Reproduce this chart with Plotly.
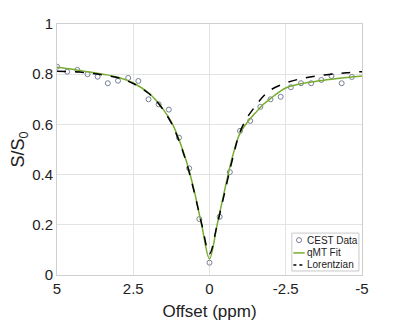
import plotly.graph_objects as go

# CEST data points (offset in ppm, normalized signal)
data_x = [5, 4.667, 4.333, 4, 3.667, 3.333, 3, 2.667, 2.333, 2, 1.667, 1.333, 1, 0.667, 0.333, 0,
          -0.333, -0.667, -1, -1.333, -1.667, -2, -2.333, -2.667, -3, -3.333, -3.667, -4, -4.333, -4.667]
data_y = [0.83, 0.81, 0.817, 0.80, 0.79, 0.764, 0.774, 0.785, 0.773, 0.70, 0.68, 0.659, 0.547, 0.425, 0.223, 0.049,
          0.232, 0.41, 0.574, 0.614, 0.67, 0.70, 0.71, 0.748, 0.764, 0.764, 0.777, 0.793, 0.764, 0.789]

# qMT fit curve
fit_x = [5, 4.5, 4, 3.5, 3, 2.5, 2, 1.75, 1.5, 1.25, 1, 0.75, 0.5, 0.25, 0,
         -0.25, -0.5, -0.75, -1, -1.25, -1.5, -1.75, -2, -2.5, -3, -3.5, -4, -4.5, -5]
fit_y = [0.828, 0.82, 0.81, 0.80, 0.788, 0.765, 0.726, 0.695, 0.657, 0.61, 0.54, 0.45, 0.335, 0.195, 0.065,
         0.2, 0.34, 0.47, 0.565, 0.61, 0.645, 0.678, 0.703, 0.745, 0.762, 0.772, 0.78, 0.787, 0.793]

# Lorentzian curve
lor_x = [5, 4.5, 4, 3.5, 3, 2.5, 2, 1.75, 1.5, 1.25, 1, 0.75, 0.5, 0.25, 0,
         -0.25, -0.5, -0.75, -1, -1.25, -1.5, -1.75, -2, -2.5, -3, -3.5, -4, -4.5, -5]
lor_y = [0.812, 0.81, 0.805, 0.797, 0.786, 0.763, 0.724, 0.695, 0.655, 0.605, 0.535, 0.445, 0.33, 0.2, 0.085,
         0.2, 0.33, 0.46, 0.57, 0.63, 0.672, 0.71, 0.737, 0.765, 0.782, 0.793, 0.80, 0.806, 0.81]

x_ticks = [5, 2.5, 0, -2.5, -5]
x_tick_labels = ["5", "2.5", "0", "-2.5", "-5"]
y_ticks = [0, 0.2, 0.4, 0.6, 0.8, 1]
y_tick_labels = ["0", "0.2", "0.4", "0.6", "0.8", "1"]
legend_labels = ["CEST Data", "qMT Fit", "Lorentzian"]

marker_color = "rgb(120,128,150)"
fit_color = "rgb(119,172,48)"

fig = go.Figure()
fig.add_trace(go.Scatter(x=data_x, y=data_y, mode="markers", name=legend_labels[0],
                         marker=dict(symbol="circle-open", size=5, color=marker_color,
                                     line=dict(width=1))))
fig.add_trace(go.Scatter(x=fit_x, y=fit_y, mode="lines", name=legend_labels[1], line_shape="spline",
                         line=dict(color=fit_color, width=1.5)))
fig.add_trace(go.Scatter(x=lor_x, y=lor_y, mode="lines", name=legend_labels[2], line_shape="spline",
                         line=dict(color="black", width=1.5, dash="dash")))

font = "Liberation Sans, Arial, sans-serif"

# Compact legend box (drawn manually to match the tight MATLAB-style legend)
lx0, lx1, ly0, ly1 = 0.770, 0.990, 0.016, 0.167
row_y = [0.139, 0.088, 0.040]
samp_x0, samp_x1, text_x = 0.775, 0.812, 0.814
shapes = [dict(type="rect", xref="paper", yref="paper", x0=lx0, x1=lx1, y0=ly0, y1=ly1,
               fillcolor="white", line=dict(color="#c8c8c8", width=1), layer="above")]
shapes.append(dict(type="circle", xref="paper", yref="paper", xsizemode="pixel", ysizemode="pixel",
                   xanchor=(samp_x0 + samp_x1) / 2, yanchor=row_y[0], x0=-2.5, x1=2.5, y0=-2.5, y1=2.5,
                   line=dict(color=marker_color, width=1), layer="above"))
shapes.append(dict(type="line", xref="paper", yref="paper", x0=samp_x0, x1=samp_x1, y0=row_y[1], y1=row_y[1],
                   line=dict(color=fit_color, width=1.5), layer="above"))
shapes.append(dict(type="line", xref="paper", yref="paper", x0=samp_x0, x1=samp_x1, y0=row_y[2], y1=row_y[2],
                   line=dict(color="black", width=1.5, dash="3px,3px"), layer="above"))
annotations = [dict(text=lab, xref="paper", yref="paper", x=text_x, y=ry, xanchor="left", yanchor="middle",
                    showarrow=False, font=dict(size=10, color="#222", family=font))
               for lab, ry in zip(legend_labels, row_y)]

fig.update_layout(
    width=400, height=324,
    margin=dict(l=49, r=46, t=16, b=57),
    paper_bgcolor="white", plot_bgcolor="white",
    font=dict(family=font, color="#222", size=15),
    showlegend=False,
    shapes=shapes,
    annotations=annotations,
    xaxis=dict(range=[5, -5], tickvals=x_ticks, ticktext=x_tick_labels, automargin=False,
               showgrid=True, gridcolor="#e3e3e3", gridwidth=1,
               showline=True, linecolor="#cfcfcf", mirror=True, zeroline=False,
               ticks="", tickfont=dict(size=15),
               title=dict(text="Offset (ppm)", font=dict(size=17), standoff=9)),
    yaxis=dict(range=[0, 1], tickvals=y_ticks, ticktext=y_tick_labels, automargin=False,
               showgrid=True, gridcolor="#e3e3e3", gridwidth=1,
               showline=True, linecolor="#cfcfcf", mirror=True, zeroline=False,
               ticks="", tickfont=dict(size=15),
               title=dict(text="S/S<sub>0</sub>", font=dict(size=18), standoff=2)),
)

fig.write_html("out.html")
